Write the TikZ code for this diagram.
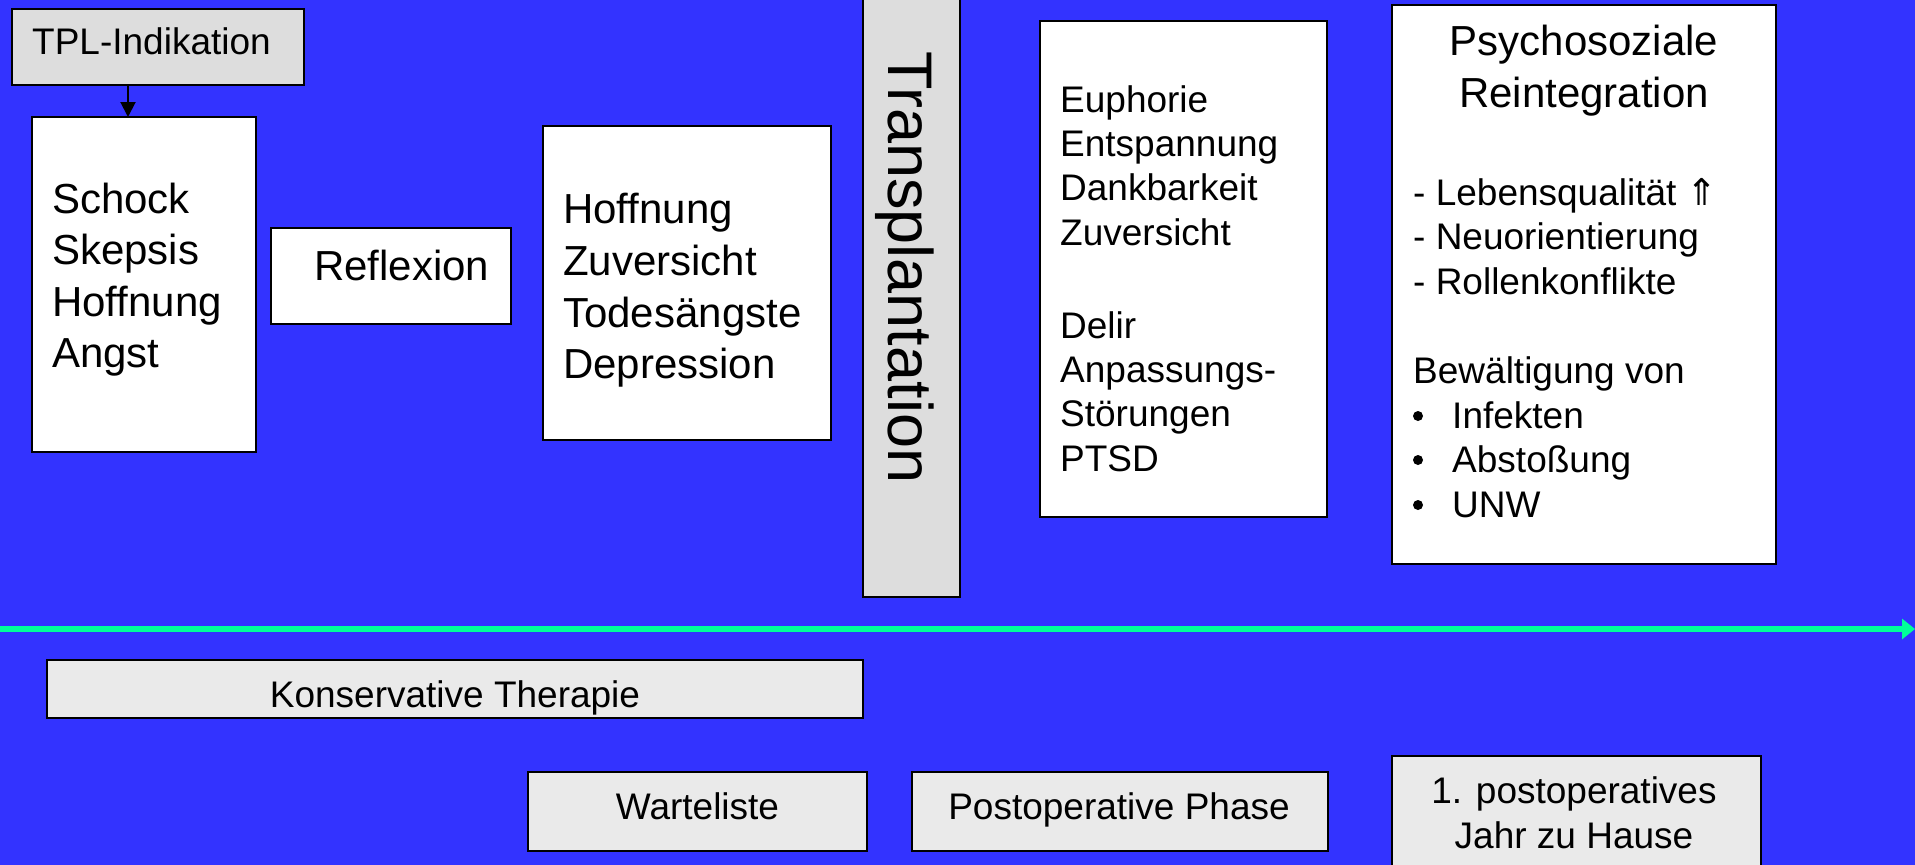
\documentclass[tikz,border=0pt]{standalone}
\usepackage{fontspec}
\setmainfont{Liberation Sans}
\newfontfamily\arrowfont{DejaVu Sans}
\usetikzlibrary{arrows.meta}

\definecolor{bgblue}{RGB}{51,51,255}
\definecolor{axisgreen}{RGB}{0,255,153}
\definecolor{darkfill}{RGB}{221,221,221}
\definecolor{lightfill}{RGB}{234,234,234}

\tikzset{
  box/.style={draw=black, line width=2.6pt, fill=white, inner sep=0pt, outer sep=0pt},
  darkbox/.style={box, fill=darkfill},
  lightbox/.style={box, fill=lightfill},
  big/.style={anchor=base west, inner sep=0pt, font=\fontsize{42}{50}\selectfont},
  mid/.style={anchor=base west, inner sep=0pt, font=\fontsize{37}{44}\selectfont},
  midc/.style={anchor=base, inner sep=0pt, font=\fontsize{37}{44}\selectfont},
  bigc/.style={anchor=base, inner sep=0pt, font=\fontsize{42}{50}\selectfont},
  dot/.style={circle, fill=black, inner sep=0pt, minimum size=10pt},
}

\begin{document}
\begin{tikzpicture}[x=1pt, y=-1pt]
  \useasboundingbox (0,0) rectangle (1915,865);
  \fill[bgblue] (0,0) rectangle (1915,865);

  % time axis
  \coordinate (axL) at (0,629);
  \coordinate (axR) at (1915,629);
  \draw[axisgreen, line width=6pt, -{Triangle[length=13pt,width=20pt]}] (axL) -- (axR);

  % upper boxes
  \node[darkbox, minimum width=292pt, minimum height=76pt] (tpl) at (158,47) {};
  \node[box, minimum width=224pt, minimum height=335pt] (b1) at (144,284.5) {};
  \node[box, minimum width=240pt, minimum height=96pt] (refl) at (391,276) {};
  \node[box, minimum width=288pt, minimum height=314pt] (hoff) at (687,283) {};
  \node[darkbox, minimum width=97pt, minimum height=612pt] (trans) at (911.5,291) {};
  \node[box, minimum width=287pt, minimum height=496pt] (euph) at (1183.5,269) {};
  \node[box, minimum width=384pt, minimum height=559pt] (psy) at (1584,284.5) {};

  % lower phase boxes
  \node[lightbox, minimum width=816pt, minimum height=58pt] (kons) at (455,689) {};
  \node[lightbox, minimum width=339pt, minimum height=79pt] (wart) at (697.5,811.5) {};
  \node[lightbox, minimum width=416pt, minimum height=79pt] (post) at (1120,811.5) {};
  \node[lightbox, minimum width=369pt, minimum height=150pt] (jahr) at (1576.5,831) {};

  % indication arrow
  \coordinate (ax) at (128,0);
  \draw[line width=2pt, -{Triangle[length=15pt,width=15pt]}] (tpl.south -| ax) -- (b1.north -| ax);

  % texts
  \node[mid] (tTPL) at (32,54) {TPL-Indikation};

  \node[big] (s1) at (52,213) {Schock};
  \node[big] (s2) at (52,264) {Skepsis};
  \node[big] (s3) at (52,316) {Hoffnung};
  \node[big] (s4) at (52,367) {Angst};

  \node[big] (r1) at (314,280) {Reflexion};

  \node[big] (h1) at (563,223) {Hoffnung};
  \node[big] (h2) at (563,275) {Zuversicht};
  \node[big] (h3) at (563,327) {Todesängste};
  \node[big] (h4) at (563,378) {Depression};

  \node[anchor=base west, inner sep=0pt, rotate=-90, font=\fontsize{63}{70}\selectfont] (tTrans) at (888,51) {Transplantation};

  \node[mid] (e1) at (1060,112) {Euphorie};
  \node[mid] (e2) at (1060,156) {Entspannung};
  \node[mid] (e3) at (1060,200) {Dankbarkeit};
  \node[mid] (e4) at (1060,245) {Zuversicht};
  \node[mid] (e5) at (1060,338) {Delir};
  \node[mid] (e6) at (1060,382) {Anpassungs-};
  \node[mid] (e7) at (1060,426) {Störungen};
  \node[mid] (e8) at (1060,471) {PTSD};

  \node[bigc] (p1) at (1584,55) {Psychosoziale};
  \node[bigc] (p2) at (1584,107) {Reintegration};
  \node[mid] (p3) at (1413,205) {- Lebensqualität {\arrowfont ⇑}};
  \node[mid] (p4) at (1413,249) {- Neuorientierung};
  \node[mid] (p5) at (1413,294) {- Rollenkonflikte};
  \node[mid] (p6) at (1413,383) {Bewältigung von};
  \node[dot] (d1) at (1418,416) {};
  \node[dot] (d2) at (1418,460) {};
  \node[dot] (d3) at (1418,505) {};
  \node[mid] (p7) at (1452,428) {Infekten};
  \node[mid] (p8) at (1452,472) {Abstoßung};
  \node[mid] (p9) at (1452,517) {UNW};

  \node[midc] (k1) at (455,707) {Konservative Therapie};
  \node[midc] (w1) at (697.5,819) {Warteliste};
  \node[midc] (o1) at (1119,819) {Postoperative Phase};
  \node[midc] (j1) at (1574,803) {1. postoperatives};
  \node[midc] (j2) at (1574,848) {Jahr zu Hause};
\end{tikzpicture}
\end{document}
